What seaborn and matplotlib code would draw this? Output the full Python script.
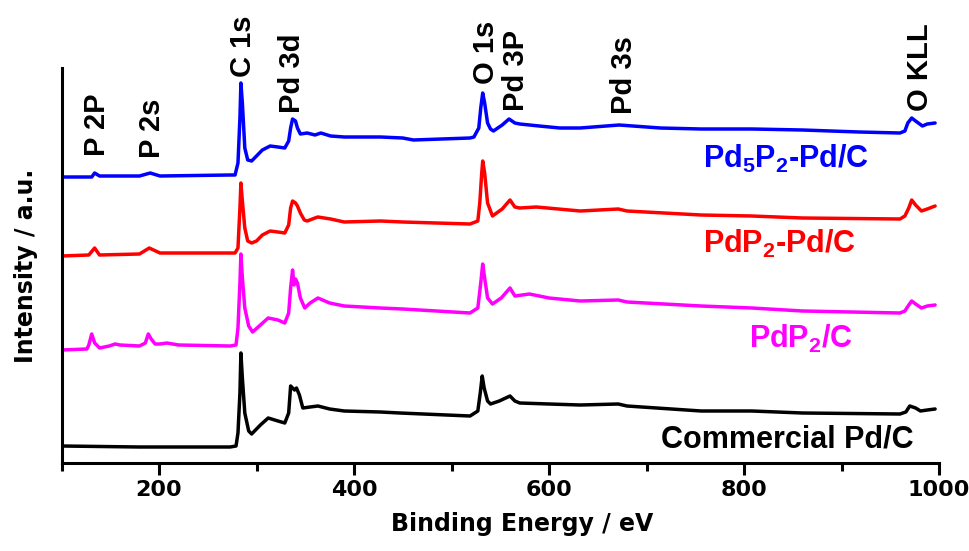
import matplotlib
matplotlib.use("Agg")
import matplotlib.pyplot as plt
from matplotlib.ticker import MultipleLocator
import seaborn as sns
import pandas as pd

# ---------------- data ----------------
blue_E = [100, 131, 134, 139, 180, 191, 201, 273, 278, 281,
          283, 284, 285.5, 288, 291, 295, 300, 306, 314, 322,
          329, 333, 335, 337, 340, 342, 345, 352, 360, 366,
          376, 390, 427, 450, 461, 490, 519, 523, 528, 530,
          532, 534, 537, 540, 543, 552, 559, 565, 570, 590,
          611, 632, 672, 714, 756, 808, 860, 918, 960, 965,
          968, 972, 976, 983, 988, 996]
blue_I = [286, 286, 290, 287, 287, 290, 287, 288, 288, 300,
          345, 380, 360, 315, 303, 302, 307, 313, 317, 316,
          315, 322, 335, 344, 342, 335, 329, 330, 328, 330,
          327, 326, 326, 325, 323, 324, 325, 326, 335, 355,
          370, 360, 340, 334, 332, 338, 344, 340, 339, 337,
          335, 335, 338, 335, 334, 334, 333, 331, 330, 332,
          340, 345, 342, 337, 339, 340]

red_E = [100, 128, 134, 139, 180, 190, 201, 273, 278, 281,
         283, 284, 285.5, 288, 291, 295, 300, 306, 314, 322,
         329, 333, 335, 337, 340, 342, 345, 349, 352, 360,
         363, 376, 390, 427, 450, 519, 527, 529, 531, 532,
         534, 537, 542, 552, 560, 565, 570, 587, 632, 671,
         680, 756, 808, 860, 960, 965, 969, 972, 976, 982,
         988, 996]
red_I = [207, 208, 215, 208, 209, 215, 210, 210, 210, 215,
         255, 280, 262, 235, 222, 220, 222, 228, 232, 231,
         230, 238, 255, 262, 260, 257, 250, 243, 242, 245,
         246, 244, 241, 242, 241, 239, 242, 260, 290, 302,
         290, 260, 247, 254, 263, 256, 255, 256, 252, 254,
         252, 248, 247, 245, 244, 247, 255, 263, 258, 252,
         254, 257]

mag_E = [100, 126, 128, 131, 134, 139, 149, 155, 160, 180,
         186, 189, 192, 196, 201, 208, 220, 273, 279, 281,
         283, 284, 285.5, 288, 292, 296, 304, 312, 322, 329,
         333, 335, 337, 338.5, 340, 342, 345, 349.5, 355, 363,
         375, 390, 427, 450, 519, 527, 530, 532, 534, 537,
         542, 551, 560, 565, 580, 600, 632, 671, 680, 756,
         808, 860, 960, 965, 969, 972, 976, 982, 988, 996]
mag_I = [113, 114, 118, 129, 120, 115, 117, 119, 118, 117,
         120, 129, 124, 119, 119, 120, 118, 117, 118, 135,
         180, 209, 185, 155, 137, 131, 138, 145, 143, 140,
         150, 175, 193, 178, 184, 180, 165, 155, 160, 165,
         160, 157, 155, 154, 150, 155, 180, 199, 185, 165,
         159, 165, 175, 167, 169, 165, 162, 163, 161, 157,
         155, 152, 150, 152, 158, 162, 159, 155, 157, 158]

blk_E = [100, 180, 273, 279, 281, 283, 284, 285.5, 288, 292,
         295, 304, 312, 322, 329, 333, 335, 337, 339, 341,
         344, 347.5, 355, 363, 375, 390, 427, 447, 519, 527,
         529.5, 531.5, 533.5, 537, 540, 549, 560, 565, 570, 600,
         632, 671, 680, 756, 808, 860, 960, 966, 970, 976,
         981, 988, 996]
blk_I = [17, 16, 16, 17, 30, 70, 110, 85, 50, 32,
         29, 38, 45, 42, 40, 50, 77, 75, 73, 75,
         68, 55, 56, 57, 54, 52, 51, 50, 47, 52,
         70, 87, 75, 62, 59, 62, 67, 62, 60, 59,
         58, 59, 57, 52, 52, 50, 49, 51, 57, 55,
         52, 53, 54]

series_names = ["Pd5P2-Pd/C", "PdP2-Pd/C", "PdP2/C", "Commercial Pd/C"]
series_colors = ["#0000FF", "#FF0000", "#FF00FF", "#000000"]

peak_labels = ["P 2P", "P 2s", "C 1s", "Pd 3d", "O 1s", "Pd 3P", "Pd 3s", "O KLL"]
peak_label_E = [136, 193, 286, 336, 535, 566, 677, 981]
peak_label_I = [307, 305, 386, 350, 379, 352, 349, 352]

x_ticks = [200, 400, 600, 800, 1000]

# ---------------- build frame ----------------
frames = []
for name, E, I in zip(series_names, [blue_E, red_E, mag_E, blk_E],
                      [blue_I, red_I, mag_I, blk_I]):
    assert len(E) == len(I), name
    frames.append(pd.DataFrame({"E": E, "I": I, "sample": name}))
df = pd.concat(frames, ignore_index=True)

# ---------------- style ----------------
sns.set_style("white")
plt.rcParams["font.family"] = ["Liberation Sans", "DejaVu Sans"]
plt.rcParams["mathtext.fontset"] = "custom"
plt.rcParams["mathtext.rm"] = "Liberation Sans:bold"
plt.rcParams["mathtext.it"] = "Liberation Sans:bold"
plt.rcParams["mathtext.bf"] = "Liberation Sans:bold"
plt.rcParams["mathtext.default"] = "rm"
plt.rcParams["text.color"] = "black"
plt.rcParams["axes.labelcolor"] = "black"
plt.rcParams["xtick.color"] = "black"
plt.rcParams["ytick.color"] = "black"
axis_font = "DejaVu Sans"

fig = plt.figure(figsize=(9.69, 5.51), dpi=100)
ax = fig.add_axes([61.5 / 969, 1 - 463 / 551, (939 - 61.5) / 969, (463 - 68) / 551])

sns.lineplot(data=df, x="E", y="I", hue="sample", palette=series_colors,
             hue_order=series_names, estimator=None, sort=False,
             linewidth=2.5, legend=False, ax=ax)

ax.set_xlim(100, 1000)
ax.set_ylim(0, 395)
ax.set_xticks(x_ticks)
ax.xaxis.set_minor_locator(MultipleLocator(100))
ax.set_yticks([])
for s in ["top", "right"]:
    ax.spines[s].set_visible(False)
for s in ["left", "bottom"]:
    ax.spines[s].set_linewidth(2.2)
    ax.spines[s].set_color("black")
ax.tick_params(axis="x", which="major", direction="out", length=8.5, width=2.2,
               pad=4, bottom=True, colors="black")
ax.tick_params(axis="x", which="minor", direction="out", length=5.5, width=2.2,
               bottom=True, colors="black")
for lbl in ax.get_xticklabels():
    lbl.set_fontfamily(axis_font)
    lbl.set_fontweight("bold")
    lbl.set_fontsize(16)
    lbl.set_color("black")

ax.set_xlabel("Binding Energy / eV", fontfamily=axis_font, fontweight="bold",
              fontsize=17, color="black")
ax.xaxis.set_label_coords((522 - 61.5) / 877.5, (463 - 512) / 395)
ax.set_ylabel("Intensity / a.u.", fontfamily=axis_font, fontweight="bold",
              fontsize=17, color="black")
ax.yaxis.set_label_coords((38 - 61.5) / 877.5, 0.5)

# peak annotations
for txt, e, i in zip(peak_labels, peak_label_E, peak_label_I):
    ax.text(e, i, txt, rotation=90, ha="center", va="bottom", fontsize=21,
            fontweight="bold", color="black", clip_on=False)

# sample labels
sample_texts = [r"Pd$_{5}$P$_{2}$-Pd/C", r"PdP$_{2}$-Pd/C", r"PdP$_{2}$/C",
                "Commercial Pd/C"]
sample_E = [758, 758, 805, 715]
sample_I = [295, 210, 115, 15]
for txt, e, i, c in zip(sample_texts, sample_E, sample_I, series_colors):
    ax.text(e, i, txt, ha="left", va="baseline", fontsize=22,
            fontweight="bold", color=c)

fig.savefig("out.png", dpi=100)
